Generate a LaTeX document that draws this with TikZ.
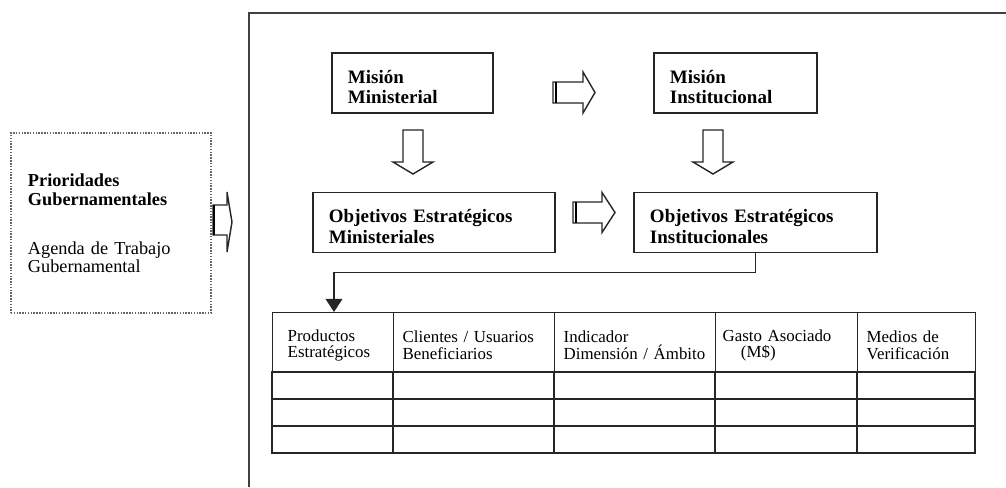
\documentclass[tikz,border=0pt]{standalone}
\usepackage{fontspec}
\setmainfont{Liberation Serif}
\usetikzlibrary{arrows.meta}

\tikzset{
  mbox/.style={draw=black!85, line width=1.2pt, inner xsep=0.4cm, inner ysep=0pt,
    align=left, minimum height=1.5cm, font=\fontsize{13.5}{14.5}\selectfont\bfseries,
    execute at begin node=\rule{0pt}{15pt}},
  barrow/.style={draw=black!85, line width=1pt, fill=white, line join=miter},
  hdr/.style={draw=black!85, line width=1pt, inner xsep=0.225cm, inner ysep=0pt,
    align=left, anchor=north west, minimum height=1.5cm, font=\fontsize{12}{11.5}\selectfont,
    execute at begin node=\rule{0pt}{12pt}},
  cell/.style={draw=black!85, line width=1pt},
  link/.style={draw=black!85, line width=1.2pt, -{Triangle[width=0.42cm,length=0.33cm]}},
  frame/.style={draw=black!75, line width=1pt},
}

\begin{document}
\begin{tikzpicture}[x=0.025cm, y=-0.025cm]
\useasboundingbox (0,0) rectangle (1006,487);
\draw[frame] (1006,13) -- (249,13) -- (249,487); % frame
\node[draw=black!60, densely dotted, line width=1pt, minimum width=5cm, minimum height=4.5cm,
  text width=4.15cm, inner xsep=0.425cm, align=left, font=\fontsize{13}{11.5}\selectfont]
  (prior) at (111,223) {\textbf{Prioridades}\\[2.5pt]\textbf{Gubernamentales}\\[23pt]Agenda de Trabajo\\Gubernamental}; % prior
\node[mbox, text width=3.225cm] (mm) at (412.5,83) {Misión\\Ministerial}; % mm
\node[mbox, text width=3.275cm] (mi) at (735.5,83) {Misión\\Institucional}; % mi
\node[mbox, text width=5.25cm] (oem) at (434,222.5) {Objetivos Estratégicos\\Ministeriales}; % oem
\node[mbox, text width=5.275cm] (oei) at (755.5,222.5) {Objetivos Estratégicos\\Institucionales}; % oei
\draw[barrow] (213,205) -- (227,205) -- (227,192) -- (232,222) -- (227,252) -- (227,235) -- (213,235) -- cycle; % arrow.prior
\draw[line width=2pt] (214,205) -- (214,235); % arrow.prior
\draw[barrow] (553,82) -- (583,82) -- (583,72) -- (595,92.5) -- (583,113) -- (583,103) -- (553,103) -- cycle; % arrow.mm
\draw[line width=0.8pt] (556,82) -- (556,103); % arrow.mm
\draw[barrow] (573,202) -- (602,202) -- (602,192.5) -- (615,212.5) -- (602,232.5) -- (602,223) -- (573,223) -- cycle; % arrow.oem
\draw[line width=0.8pt] (576,202) -- (576,223); % arrow.oem
\draw[barrow] (403,130) -- (423,130) -- (423,162) -- (433,162) -- (413,174) -- (393,162) -- (403,162) -- cycle; % down.mm
\draw[barrow] (703,130) -- (723,130) -- (723,162) -- (733,162) -- (713,174) -- (693,162) -- (703,162) -- cycle; % down.mi
\node[hdr, minimum width=3.025cm, text width=2.275cm, inner xsep=0.375cm] (prod) at (272,312) {Productos\\Estratégicos}; % prod
\node[hdr, minimum width=4.025cm, text width=3.575cm] (clie) at (393,312) {Clientes / Usuarios\\Beneficiarios}; % clie
\node[hdr, minimum width=4.025cm, text width=3.575cm] (indi) at (554,312) {Indicador\\Dimensión / Ámbito}; % indi
\node[hdr, minimum width=3.55cm, text width=3.2cm, inner xsep=0.175cm] (gast) at (715,312) {Gasto Asociado\\\hspace*{13pt}(M\$)}; % gast
\node[hdr, minimum width=2.95cm, text width=2.5cm] (medi) at (857,312) {Medios de\\Verificación}; % medi
\foreach \xa/\xb in {272/393, 393/554, 554/715, 715/857, 857/975}
  \foreach \ya/\yb in {372/399, 399/426, 426/453}
    \draw[cell] (\xa,\ya) rectangle (\xb,\yb); % rows
\coordinate (tbltop) at (334,312);
\draw[link] (oei.south) -- ++(0,19) -| (tbltop); % link
\end{tikzpicture}
\end{document}
